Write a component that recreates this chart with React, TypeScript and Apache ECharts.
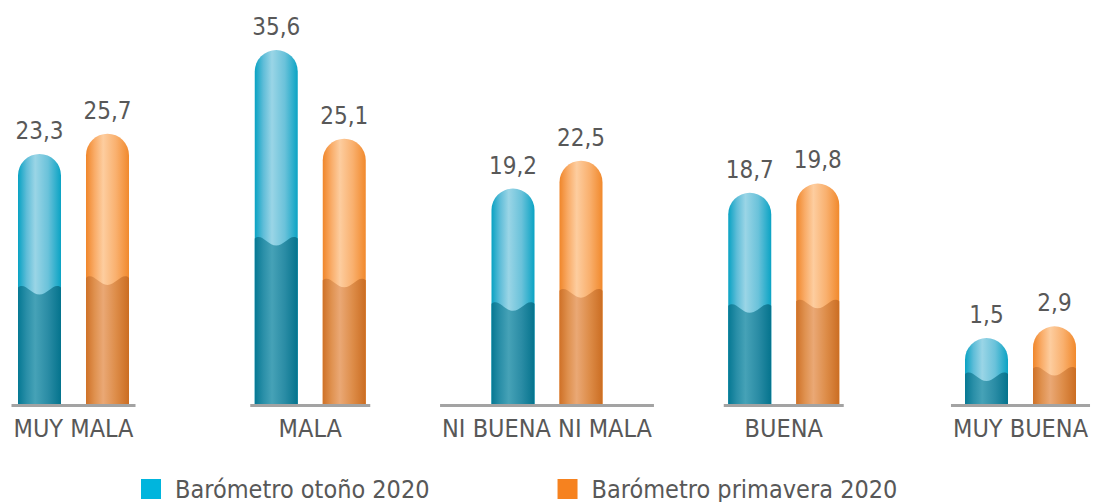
import React, { useEffect, useRef } from "react";
import * as echarts from "echarts";

// ---- data ----
const categories = ["MUY MALA", "MALA", "NI BUENA NI MALA", "BUENA", "MUY BUENA"];
const seriesNames = ["Barómetro otoño 2020", "Barómetro primavera 2020"];
const otono2020 = [23.3, 35.6, 19.2, 18.7, 1.5];
const primavera2020 = [25.7, 25.1, 22.5, 19.8, 2.9];

// ---- layout / style ----
const Y_MIN = -6.3;
const Y_MAX = 35.6;
const BAR_W = 43;
const BAR_OFFSET = 34;
const TEXT_COLOR = "#585858";
const LABEL_FONT_FAMILY = '"DejaVu Sans Condensed", "DejaVu Sans", sans-serif';
const VALUE_FONT_FAMILY = '"Liberation Sans Narrow", "DejaVu Sans Condensed", sans-serif';

const palettes = [
  {
    legend: "#00b5dd",
    upper: ["#08a2c3", "#5fbdd8", "#9ad5e6", "#6ac2da", "#0aa3c4"],
    lower: ["#057893", "#2a8fa8", "#46a2b7", "#2a8ca5", "#04738d"],
  },
  {
    legend: "#f6821f",
    upper: ["#f0862a", "#f9ac68", "#fdcd9f", "#f9b06e", "#f1892c"],
    lower: ["#cf7127", "#df914f", "#eaa875", "#dd8c48", "#cb6d22"],
  },
];

const grad = (cols: string[]) => ({
  type: "linear",
  x: 0,
  y: 0,
  x2: 1,
  y2: 0,
  colorStops: [
    { offset: 0, color: cols[0] },
    { offset: 0.2, color: cols[1] },
    { offset: 0.4, color: cols[2] },
    { offset: 0.7, color: cols[3] },
    { offset: 1, color: cols[4] },
  ],
});

let measureCtx: CanvasRenderingContext2D | null = null;
const measure = (text: string, font: string) => {
  if (!measureCtx) measureCtx = document.createElement("canvas").getContext("2d");
  if (!measureCtx) return text.length * 14;
  measureCtx.font = font;
  return measureCtx.measureText(text).width;
};

const fmt = (v: number) => v.toFixed(1).replace(".", ",");

const makeBarRenderer = (side: number, pal: (typeof palettes)[number]) => (params: any, api: any) => {
  const i = api.value(0);
  const v = api.value(1);
  const topPt = api.coord([i, v]);
  const cs = params.coordSys;
  const base = cs.y + cs.height;
  const cx = topPt[0] + side * BAR_OFFSET;
  const x0 = cx - BAR_W / 2;
  const x1 = cx + BAR_W / 2;
  const top = topPt[1];
  const h = base - top;
  const r = BAR_W / 2;
  const yw = base - h * 0.47;
  const wave =
    `M${x0},${yw + 1} ` +
    `C${x0 + BAR_W * 0.16},${yw - 5} ${x0 + BAR_W * 0.3},${yw + 8} ${cx},${yw + 8} ` +
    `C${x1 - BAR_W * 0.3},${yw + 8} ${x1 - BAR_W * 0.16},${yw - 5} ${x1},${yw + 1} ` +
    `L${x1},${base} L${x0},${base} Z`;
  return {
    type: "group",
    children: [
      {
        type: "rect",
        shape: { x: x0, y: top, width: BAR_W, height: h, r: [r, r, 0, 0] },
        style: { fill: grad(pal.upper) },
      },
      {
        type: "path",
        shape: { pathData: wave },
        style: { fill: grad(pal.lower) },
      },
      {
        type: "text",
        x: cx,
        y: top - 11,
        style: {
          text: fmt(v),
          fill: TEXT_COLOR,
          font: `24px ${VALUE_FONT_FAMILY}`,
          align: "center",
          verticalAlign: "bottom",
        },
      },
    ],
  };
};

const renderSegment = (params: any, api: any) => {
  const i = api.value(0);
  const pt = api.coord([i, 0]);
  const cs = params.coordSys;
  const base = cs.y + cs.height;
  const w = measure(categories[i], `25px ${LABEL_FONT_FAMILY}`);
  const half = Math.max(60, w / 2 + 2);
  return {
    type: "line",
    shape: { x1: pt[0] - half, y1: base + 1.5, x2: pt[0] + half, y2: base + 1.5 },
    style: { stroke: "#a3a3a3", lineWidth: 3 },
  };
};

export default function App() {
  const ref = useRef<HTMLDivElement>(null);
  useEffect(() => {
    document.body.style.margin = "0";
    const chart = echarts.init(ref.current!, null, { renderer: "svg" });
    const seriesData = [otono2020, primavera2020];
    chart.setOption({
      animation: false,
      grid: { left: 73.5, right: 73.5, top: 50, bottom: 98, containLabel: false },
      xAxis: {
        type: "category",
        data: categories,
        boundaryGap: false,
        axisLine: { show: false },
        axisTick: { show: false },
        splitLine: { show: false },
        axisLabel: {
          interval: 0,
          margin: 12,
          color: TEXT_COLOR,
          fontSize: 25,
          fontFamily: LABEL_FONT_FAMILY,
        },
      },
      yAxis: { type: "value", min: Y_MIN, max: Y_MAX, show: false },
      legend: {
        data: seriesNames,
        left: 141,
        top: 474,
        padding: 0,
        icon: "rect",
        itemWidth: 20,
        itemHeight: 20,
        itemGap: 128,
        selectedMode: false,
        textStyle: {
          color: TEXT_COLOR,
          fontSize: 25,
          lineHeight: 30,
          fontFamily: LABEL_FONT_FAMILY,
          padding: [0, 0, 0, 9],
        },
      },
      series: [
        {
          type: "custom",
          name: "eje",
          silent: true,
          data: categories.map((_, i) => [i, 0]),
          encode: { x: 0, y: 1 },
          renderItem: renderSegment,
          z: 1,
        },
        ...seriesNames.map((name, s) => ({
          type: "custom",
          name,
          silent: true,
          itemStyle: { color: palettes[s].legend },
          data: seriesData[s].map((v, i) => [i, v]),
          encode: { x: 0, y: 1 },
          renderItem: makeBarRenderer(s === 0 ? -1 : 1, palettes[s]),
          z: 2,
        })),
      ],
    });
    return () => chart.dispose();
  }, []);
  return <div ref={ref} style={{ width: 1094, height: 502 }} />;
}
